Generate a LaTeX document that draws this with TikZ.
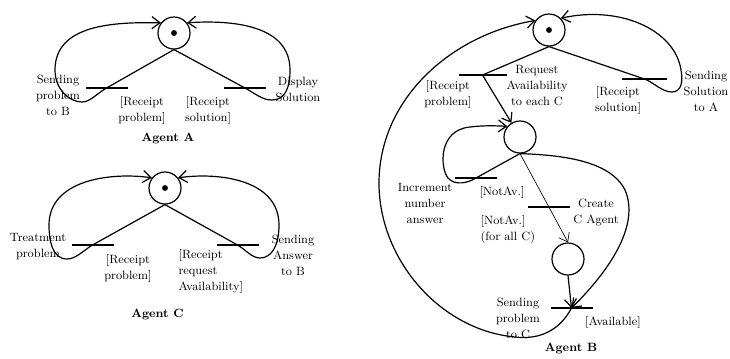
\documentclass[tikz,border=0pt]{standalone}
\usetikzlibrary{arrows.meta}

\begin{document}
\begin{tikzpicture}[
        x=0.75pt, y=-0.75pt,
        font=\fontsize{9}{12}\selectfont,
        line width=0.9pt,
        state/.style={draw, circle, minimum size=24pt, inner sep=0pt},
        start/.style={state, path picture={\fill (path picture bounding box.center) circle (2.2pt);}},
        bar/.style={fill=black, inner sep=0pt, minimum width=31.5pt, minimum height=1.4pt},
        lbl/.style={align=center, inner sep=0pt},
        title/.style={font=\fontsize{9}{12}\selectfont\bfseries, inner sep=0pt},
        arr/.style={-{Straight Barb[length=6pt, width=9pt]}}
    ]
    \useasboundingbox (0,0) rectangle (730,358);

    % Agent A
    \node[start] (a0) at (174,33) {};
    \node[bar] (abl) at (106.5,88) {};
    \node[bar] (abr) at (245,88) {};
    \node[lbl] (la1) at (58,95.5) {Sending\\problem\\to B};
    \node[lbl] (la2) at (142,110) {[Receipt\\problem]};
    \node[lbl] (la3) at (208,110) {[Receipt\\solution]};
    \node[lbl] (la4) at (298,89) {Display\\Solution};
    \node[title] (ta) at (168,138) {Agent A};

    \draw (a0.south) -- (abl.center);
    \draw (a0.south) -- (abr.center);
    \draw[arr] (abl.center) .. controls (97,93.5) and (90,102) .. (82,102)
        .. controls (70,102) and (55,90) .. (55,70)
        .. controls (55,24) and (115,22) .. (a0.142);
    \draw[arr] (abr.center) .. controls (255,93.4) and (262,100) .. (272,100)
        .. controls (285,100) and (290,88) .. (290,70)
        .. controls (290,24) and (230,20) .. (a0.38);

    % Agent C
    \node[start] (c0) at (165,188) {};
    \node[bar] (cbl) at (92.5,245) {};
    \node[bar] (cbr) at (237.5,245) {};
    \node[lbl] (lc1) at (38,246.5) {Treatment\\problem};
    \node[lbl] (lc2) at (128,268.5) {[Receipt\\problem]};
    \node[lbl, align=left, anchor=west] (lc3) at (178,271.5) {[Receipt\\request\\Availability]};
    \node[lbl] (lc4) at (293,255.5) {Sending\\Answer\\to B};
    \node[title] (tc) at (157.5,314) {Agent C};

    \draw (c0.south) -- (cbl.center);
    \draw (c0.south) -- (cbr.center);
    \draw[arr] (cbl.center) .. controls (84,250) and (76,259) .. (67,259)
        .. controls (52,259) and (49,240) .. (49,225)
        .. controls (49,180) and (110,172) .. (c0.142);
    \draw[arr] (cbr.center) .. controls (246,250) and (252,258) .. (260,258)
        .. controls (272,258) and (279,245) .. (279,225)
        .. controls (279,180) and (220,172) .. (c0.38);

    % Agent B
    \node[start] (b0) at (549,30) {};
    \node[bar, minimum width=36pt] (bbl) at (482.5,75) {};
    \node[bar, minimum width=33.75pt] (bbr) at (644.5,79) {};
    \node[state] (b1) at (520,137) {};
    \node[bar] (bbi) at (476,178) {};
    \node[bar] (bbc) at (549,207) {};
    \node[state] (b2) at (568,259) {};
    \node[bar] (bbs) at (571.5,308) {};

    \node[lbl] (lb1) at (537,86) {Request\\Availability\\to each C};
    \node[lbl] (lb2) at (448,94) {[Receipt\\problem]};
    \node[lbl] (lb3) at (618,100.5) {[Receipt\\solution]};
    \node[lbl] (lb4) at (706,91) {Sending\\Solution\\to A};
    \node[lbl] (lb5) at (425,203.5) {Increment\\number\\answer};
    \node[lbl] (lb6) at (502,192) {[NotAv.]};
    \node[lbl, align=left, anchor=west] (lb7) at (480,229) {[NotAv.]\\(for all C)};
    \node[lbl] (lb8) at (596,212.5) {Create\\C Agent};
    \node[lbl] (lb9) at (518,318) {Sending\\problem\\to C};
    \node[lbl] (lb10) at (613,322) {[Available]};
    \node[title] (tb) at (571,348) {Agent B};

    \draw (b0.south) -- (bbl.center);
    \draw (b0.south) -- (bbr.center);
    \draw[arr] (bbl.center) -- (b1);
    \draw[arr] (bbr.center) .. controls (653,82) and (662,92) .. (672,92)
        .. controls (682,92) and (683,80) .. (681,70)
        .. controls (675,30) and (620,5) .. (b0.45);
    \draw[arr] (bbs.center) .. controls (560,330) and (540,340) .. (515,337)
        .. controls (440,330) and (380,260) .. (379,185)
        .. controls (378,100) and (450,35) .. (b0.145);
    \draw (b1.south) -- (bbi.center);
    \draw[arr] (bbi.center) .. controls (468,183) and (455,186) .. (448,178)
        .. controls (440,168) and (438,130) .. (470,127)
        .. controls (485,125) and (500,126) .. (b1.140);
    \draw[arr, line width=0.5pt] (b1.south) -- (b2.north);
    \draw[arr] (b2.south) -- (bbs.center);
    \draw[arr] (b1.south) .. controls (560,155) and (610,160) .. (625,190)
        .. controls (640,225) and (610,270) .. (bbs.center);
\end{tikzpicture}
\end{document}
